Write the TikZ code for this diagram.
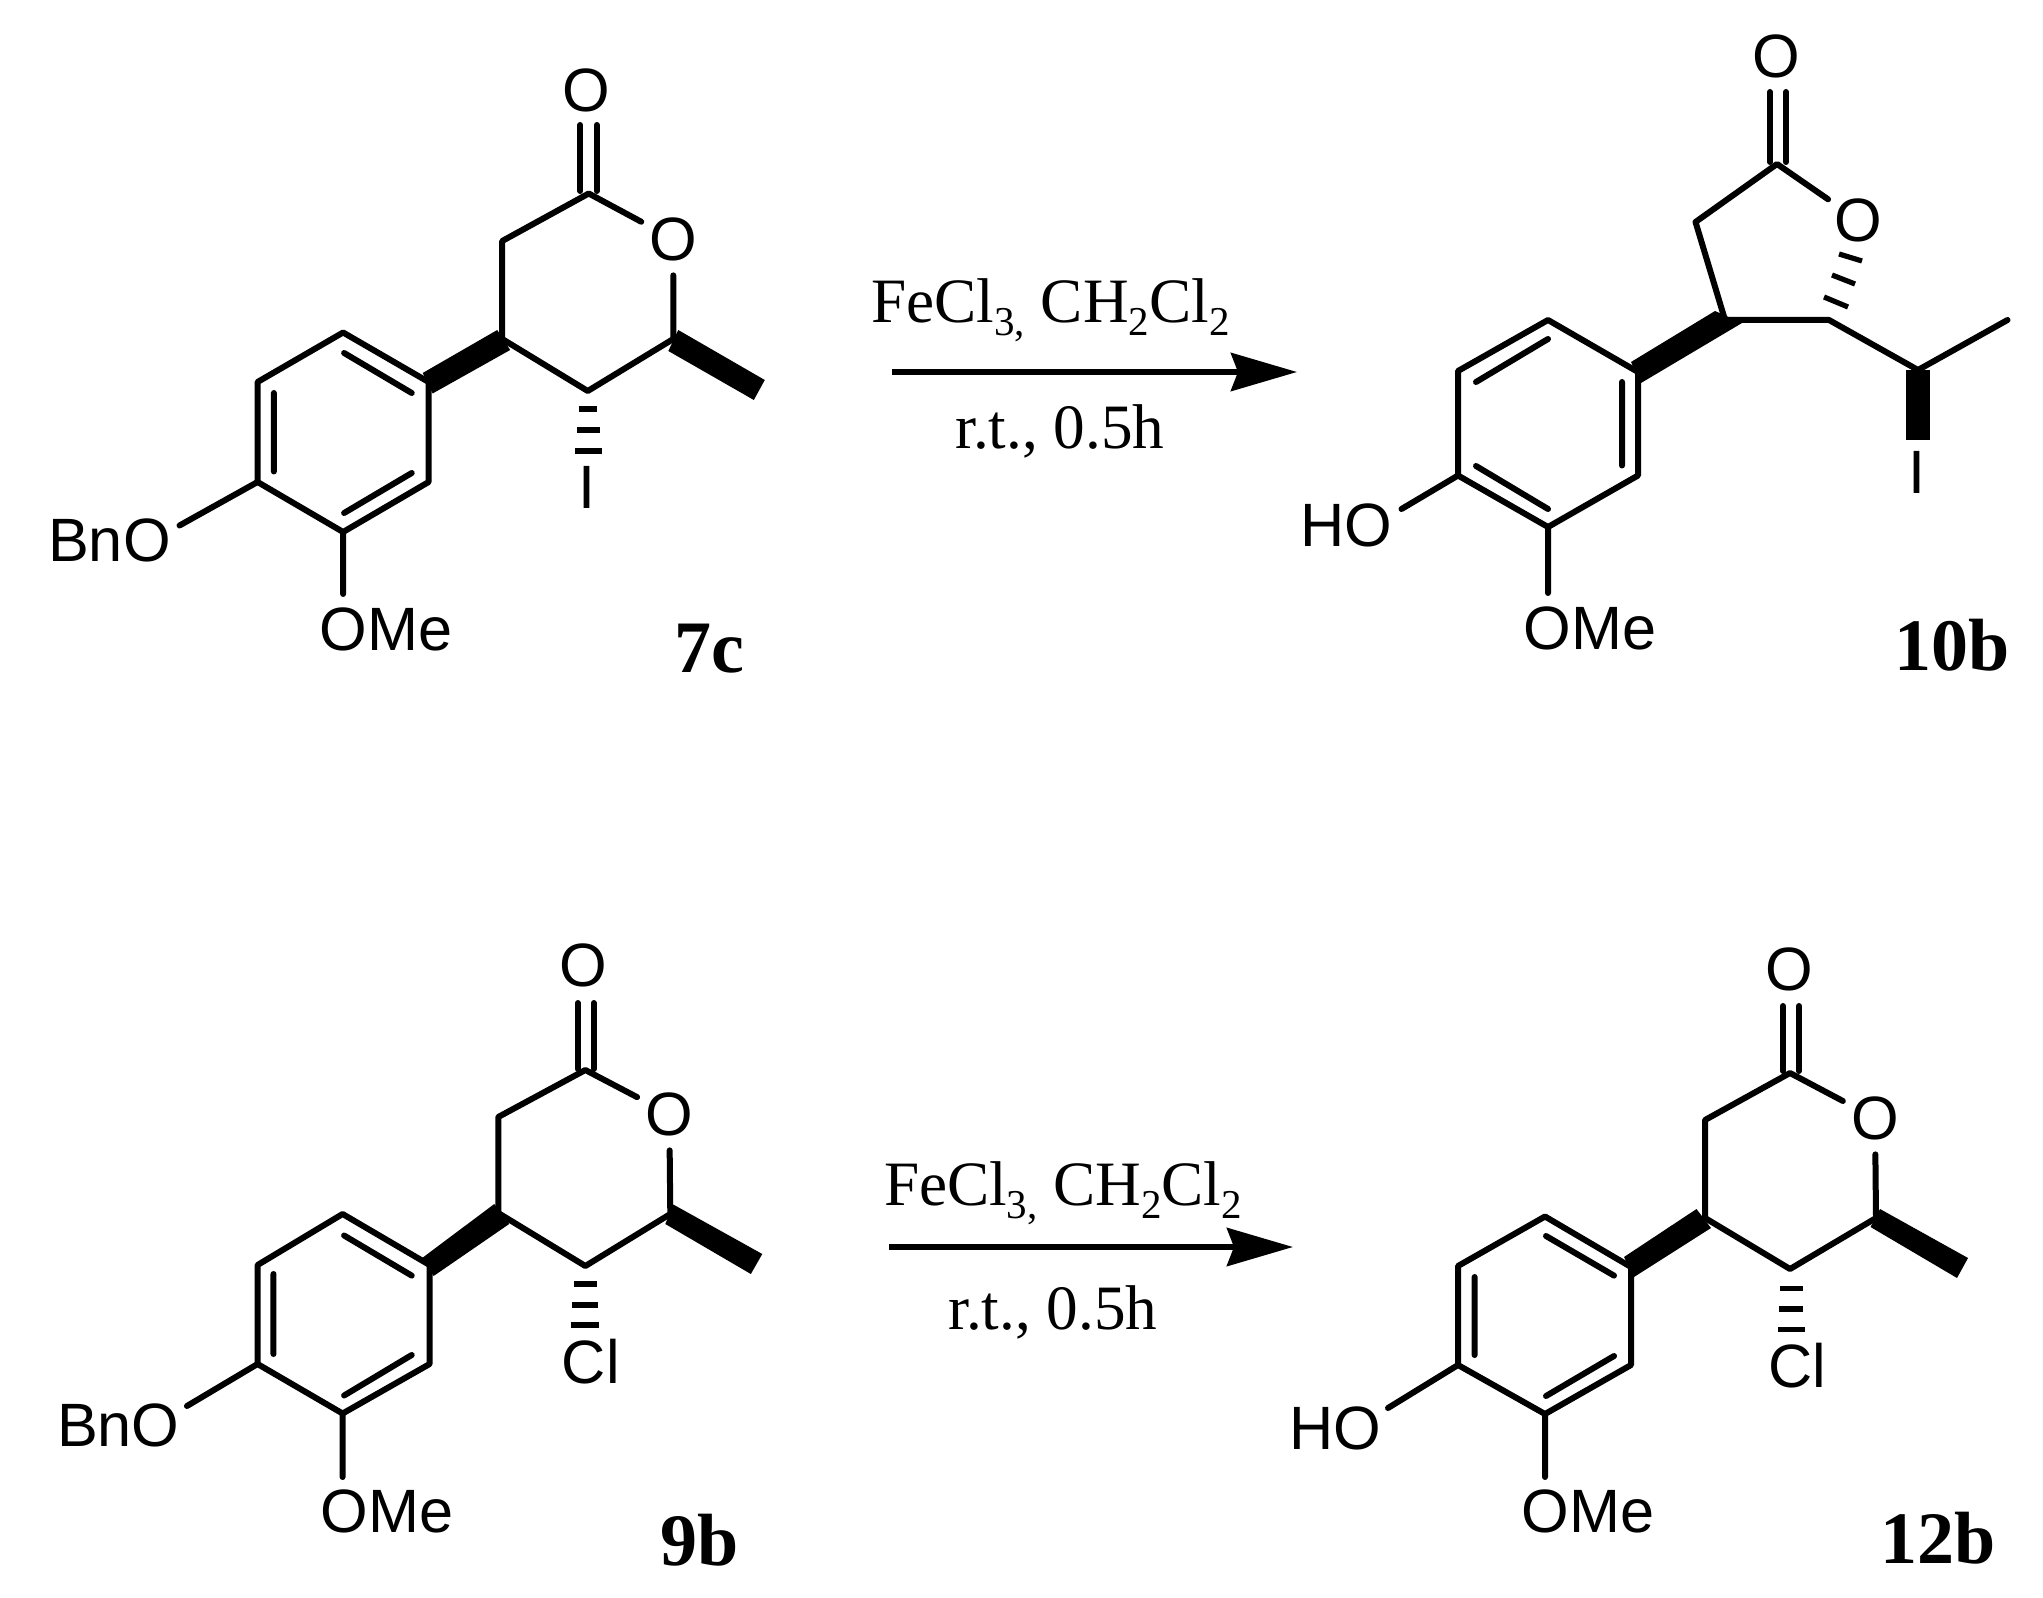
\documentclass[tikz,border=0pt]{standalone}
\usepackage{fontspec}
\setmainfont{Liberation Serif}
\newfontfamily\chemfont{Liberation Sans}
\usetikzlibrary{arrows.meta}
\newcommand{\subt}[1]{\raisebox{-6.5pt}{\fontsize{20.5}{21}\selectfont #1}}
\newcommand{\reagent}{FeCl\subt{3,} CH\subt{2}Cl\subt{2}}
\tikzset{
  bond/.style={line width=3pt,line cap=round,line join=round,black},
  hashbar/.style={line width=2.6pt,line cap=butt,black},
  wedgebond/.style={fill=black,draw=none},
  atomlabel/.style={inner sep=0pt,font=\chemfont\fontsize{30.6}{36}\selectfont,text=black},
  ringatom/.style={atomlabel,circle,minimum size=36pt},
  cmpd/.style={inner sep=0pt,font=\bfseries\fontsize{37}{44}\selectfont,text=black},
  reag/.style={inner sep=0pt,anchor=base,font=\fontsize{31.6}{36}\selectfont,text=black},
  rxnarrow/.style={line width=3pt,black,-{Stealth[length=33pt,width=19pt,inset=3.5pt]}},
}
\begin{document}
\begin{tikzpicture}[x=0.5pt,y=-0.5pt]
\useasboundingbox (0,0) rectangle (2043,1598);
% ---------- 7c ----------
\begin{scope}[xscale=0.9945]
\foreach \n/\x/\y in {
 cc/592/193.5, ch/505/241, c4/505/339, c5/591/391, c6/677/339,
 a1/431/382, a2/345/332.5, a3/259/382, a4/259/482, a5/345/532, a6/431/482,
 i1a/414/393, i1b/346/353, i2a/275.4/393, i2b/275.4/471.5, i3a/346/513, i3b/414/473,
 dla/583.6/125, dlb/583.6/191, dra/600/125, drb/600/191,
 bo/180.5/525.5, mo/345/594,
 wa/500/330, wb/513/350, wc/435/393.5, wd/425/373,
 ta/682/330, tb/672/351, tc/758/400, td/769/380,
 ha/582/409, hb/600/409, hc/580/430, hd/603/430, he/578.5/451, hf/605/451}
  \coordinate (A\n) at (\x,\y);
\node[ringatom] (Aox) at (590,90) {O};
\node[ringatom] (Aor) at (677,239) {O};
\node[atomlabel] (Abn) at (110,540) {BnO};
\node[atomlabel] (Aome) at (388,629) {OMe};
\node[atomlabel] (Ahal) at (590,487) {I};
\node[cmpd] (Alab) at (713,648.5) {7c};
\end{scope}
\draw[bond] (Aor) -- (Acc) -- (Ach) -- (Ac4) -- (Ac5) -- (Ac6) -- (Aor);
\draw[bond] (Adla) -- (Adlb) (Adra) -- (Adrb);
\draw[bond] (Aa1) -- (Aa2) -- (Aa3) -- (Aa4) -- (Aa5) -- (Aa6) -- cycle;
\draw[bond] (Ai1a) -- (Ai1b) (Ai2a) -- (Ai2b) (Ai3a) -- (Ai3b);
\draw[bond] (Aa4) -- (Abo) (Aa5) -- (Amo);
\fill[wedgebond] (Awa) -- (Awb) -- (Awc) -- (Awd) -- cycle;
\fill[wedgebond] (Ata) -- (Atb) -- (Atc) -- (Atd) -- cycle;
\draw[hashbar] (Aha) -- (Ahb) (Ahc) -- (Ahd) (Ahe) -- (Ahf);
% ---------- 10b ----------
\foreach \n/\x/\y in {
 cc/1777/164, ch/1695.5/222, c4/1725/320, c5/1829/320, cq/1918/370, cm/2007.5/320,
 a1/1638/372, a2/1548/320, a3/1458/371, a4/1458/475.5, a5/1548/527, a6/1638/475.5,
 i1a/1548/339, i1b/1476/382, i2a/1622/382, i2b/1622/465.5, i3a/1476/466, i3b/1548/509,
 dla/1770/92, dlb/1770/162, dra/1786/92, drb/1786/162,
 bo/1401.5/509, mo/1548/593,
 wa/1715/311, wb/1742/323, wc/1641/383, wd/1631/362,
 ta/1906/370, tb/1930/370, tc/1930/440, td/1906/440,
 ha/1824/297, hb/1848/307, hc/1832/275, hd/1855/284, he/1839/254, hf/1862/261}
  \coordinate (B\n) at (\x,\y);
\node[ringatom] (Box) at (1776,56) {O};
\node[ringatom] (Bor) at (1858,220) {O};
\node[atomlabel] (Bbn) at (1346,525) {HO};
\node[atomlabel] (Bome) at (1590,628) {OMe};
\node[atomlabel] (Bhal) at (1917,472) {I};
\node[cmpd] (Blab) at (1952,645.5) {10b};
\draw[bond] (Bor) -- (Bcc) -- (Bch) -- (Bc4) -- (Bc5) -- (Bcq) -- (Bcm);
\draw[bond] (Bdla) -- (Bdlb) (Bdra) -- (Bdrb);
\draw[bond] (Ba1) -- (Ba2) -- (Ba3) -- (Ba4) -- (Ba5) -- (Ba6) -- cycle;
\draw[bond] (Bi1a) -- (Bi1b) (Bi2a) -- (Bi2b) (Bi3a) -- (Bi3b);
\draw[bond] (Ba4) -- (Bbo) (Ba5) -- (Bmo);
\fill[wedgebond] (Bwa) -- (Bwb) -- (Bwc) -- (Bwd) -- cycle;
\fill[wedgebond] (Bta) -- (Btb) -- (Btc) -- (Btd) -- cycle;
\draw[hashbar] (Bha) -- (Bhb) (Bhc) -- (Bhd) (Bhe) -- (Bhf);
% ---------- 9b ----------
\begin{scope}[xscale=0.9945]
\foreach \n/\x/\y in {
 cc/588.6/1070, ch/501/1117, c4/501/1213, c5/588.6/1266, c6/674/1214,
 a1/432/1265, a2/344.5/1214, a3/259/1265, a4/259/1364, a5/344.5/1413.5, a6/432/1364,
 i1a/414/1275.6, i1b/346/1235.5, i2a/275/1274, i2b/275/1354, i3a/346/1395.5, i3b/414/1355,
 dla/581/1003, dlb/581/1069, dra/597/1003, drb/597/1069,
 bo/188/1406, mo/344.5/1477,
 wa/497/1204, wb/512/1224, wc/436/1276, wd/424.5/1258,
 ta/677/1204.5, tb/669/1224, tc/755/1274, td/766.5/1254,
 ha/577/1284, hb/600/1284, hc/575/1305, hd/601/1305, he/574/1325, hf/602/1325}
  \coordinate (C\n) at (\x,\y);
\node[ringatom] (Cox) at (587,965) {O};
\node[ringatom] (Cor) at (673,1114) {O};
\node[atomlabel] (Cbn) at (119,1425) {BnO};
\node[atomlabel] (Come) at (389,1511) {OMe};
\node[atomlabel] (Chal) at (594,1362) {Cl};
\node[cmpd] (Clab) at (703,1540.5) {9b};
\end{scope}
\draw[bond] (Cor) -- (Ccc) -- (Cch) -- (Cc4) -- (Cc5) -- (Cc6) -- (Cor);
\draw[bond] (Cdla) -- (Cdlb) (Cdra) -- (Cdrb);
\draw[bond] (Ca1) -- (Ca2) -- (Ca3) -- (Ca4) -- (Ca5) -- (Ca6) -- cycle;
\draw[bond] (Ci1a) -- (Ci1b) (Ci2a) -- (Ci2b) (Ci3a) -- (Ci3b);
\draw[bond] (Ca4) -- (Cbo) (Ca5) -- (Cmo);
\fill[wedgebond] (Cwa) -- (Cwb) -- (Cwc) -- (Cwd) -- cycle;
\fill[wedgebond] (Cta) -- (Ctb) -- (Ctc) -- (Ctd) -- cycle;
\draw[hashbar] (Cha) -- (Chb) (Chc) -- (Chd) (Che) -- (Chf);
% ---------- 12b ----------
\foreach \n/\x/\y in {
 cc/1790/1073, ch/1705/1120, c4/1705/1218, c5/1790/1269, c6/1876/1218,
 a1/1631/1267, a2/1545/1216.5, a3/1458/1266, a4/1458/1365, a5/1545/1414, a6/1631/1365,
 i1a/1614/1275.6, i1b/1546/1236, i2a/1474.6/1277, i2b/1474.6/1355, i3a/1546/1396, i3b/1614/1356,
 dla/1783/1006, dlb/1783/1071, dra/1799/1006, drb/1799/1071,
 bo/1388/1408, mo/1545/1477,
 wa/1696.5/1209, wb/1711/1228, wc/1634/1277, wd/1624/1257,
 ta/1880/1209, tb/1870.5/1227, tc/1957/1278, td/1968/1258,
 ha/1780/1288.5, hb/1802.5/1288.5, hc/1779/1309, hd/1803/1309, he/1778/1329.5, hf/1805/1329.5}
  \coordinate (D\n) at (\x,\y);
\node[ringatom] (Dox) at (1789,969.6) {O};
\node[ringatom] (Dor) at (1875,1118) {O};
\node[atomlabel] (Dbn) at (1335,1428) {HO};
\node[atomlabel] (Dome) at (1588,1511) {OMe};
\node[atomlabel] (Dhal) at (1797,1366) {Cl};
\node[cmpd] (Dlab) at (1938,1538.5) {12b};
\draw[bond] (Dor) -- (Dcc) -- (Dch) -- (Dc4) -- (Dc5) -- (Dc6) -- (Dor);
\draw[bond] (Ddla) -- (Ddlb) (Ddra) -- (Ddrb);
\draw[bond] (Da1) -- (Da2) -- (Da3) -- (Da4) -- (Da5) -- (Da6) -- cycle;
\draw[bond] (Di1a) -- (Di1b) (Di2a) -- (Di2b) (Di3a) -- (Di3b);
\draw[bond] (Da4) -- (Dbo) (Da5) -- (Dmo);
\fill[wedgebond] (Dwa) -- (Dwb) -- (Dwc) -- (Dwd) -- cycle;
\fill[wedgebond] (Dta) -- (Dtb) -- (Dtc) -- (Dtd) -- cycle;
\draw[hashbar] (Dha) -- (Dhb) (Dhc) -- (Dhd) (Dhe) -- (Dhf);
% ---------- reactions ----------
\node[reag] (r1a) at (1050.5,323) {\reagent};
\node[reag] (r1b) at (1060,449) {r.t., 0.5h};
\coordinate (r1s) at (892,372);
\coordinate (r1e) at (1297,372);
\draw[rxnarrow] (r1s) -- (r1e);
\node[reag] (r2a) at (1063,1205) {\reagent};
\node[reag] (r2b) at (1053,1329) {r.t., 0.5h};
\coordinate (r2s) at (889,1247);
\coordinate (r2e) at (1293,1247);
\draw[rxnarrow] (r2s) -- (r2e);
\end{tikzpicture}
\end{document}
